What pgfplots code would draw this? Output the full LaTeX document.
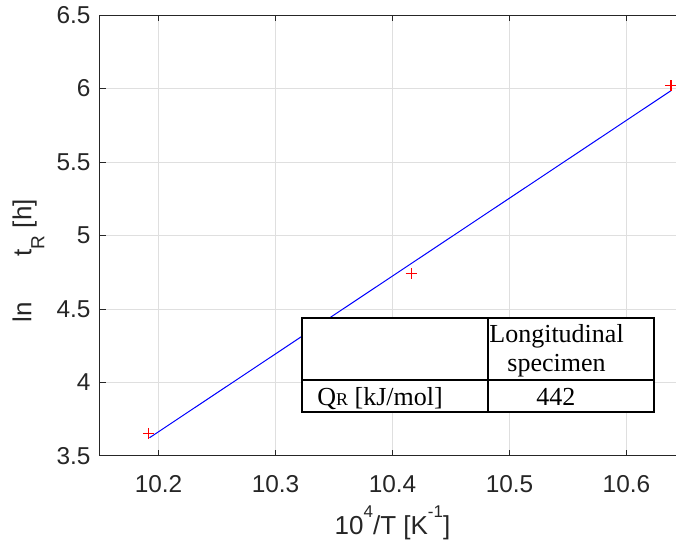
\documentclass[border=0pt]{standalone}
\usepackage{pgfplots}
\pgfplotsset{compat=1.18}
\usepackage{fontspec}
\setmainfont{Liberation Sans}
\newfontfamily\timesf{Liberation Serif}
\definecolor{axgray}{rgb}{0.15,0.15,0.15}
\definecolor{gridgray}{rgb}{0.875,0.875,0.875}
\definecolor{mred}{rgb}{1,0,0}
\begin{document}
\begin{tikzpicture}
\begin{axis}[
 scale only axis, width=292.5pt, height=220.5pt,
 xmin=10.15, xmax=10.65, ymin=3.5, ymax=6.5,
 xtick={10.2,10.3,10.4,10.5,10.6},
 ytick={3.5,4,4.5,5,5.5,6,6.5},
 xticklabels={10.2,10.3,10.4,10.5,10.6},
 yticklabels={3.5,4,4.5,5,5.5,6,6.5},
 grid=major,
 major grid style={gridgray, line width=0.5pt},
 axis line style={axgray, line width=0.5pt},
 tick style={axgray, line width=0.5pt},
 major tick length=3pt,
 tick align=inside,
 /pgf/number format/assume math mode=true,
 ticklabel style={font=\fontsize{12.2}{14}\selectfont, text=axgray},
 xticklabel style={anchor=base, yshift=-18pt},
 yticklabel style={anchor=east, xshift=-1.2pt},
 xlabel={10\raisebox{8.5pt}{\fontsize{8.5}{8.5}\selectfont 4}/T [K\raisebox{8.5pt}{\fontsize{8.5}{8.5}\selectfont -1}]},
 xlabel style={at={(axis description cs:0.5,0)}, anchor=base, yshift=-39pt, inner sep=0pt, font=\fontsize{13}{15}\selectfont, text=axgray},
 ylabel={ln\hspace{23pt}t\raisebox{-6.5pt}{\fontsize{9.5}{9.5}\selectfont R} [h]},
 ylabel style={at={(axis description cs:-0.1171,0.3016)}, anchor=base west, inner sep=0pt, font=\fontsize{13}{15}\selectfont, text=axgray},
]
\addplot[blue, line width=0.5pt] coordinates {(10.1923,3.624) (10.638,5.985)};
\addplot[draw=none, mark=+, mark size=2.75pt, mark options={draw=mred, line width=0.6pt}] coordinates {(10.1917,3.654)};
\addplot[draw=none, mark=+, mark size=2.75pt, mark options={draw=mred, line width=0.6pt}] coordinates {(10.416,4.743)};
\addplot[draw=none, mark=+, mark size=2.75pt, mark options={draw=mred, line width=0.6pt}] coordinates {(10.638,6.019)};
\end{axis}
\fill[white] (101pt,22pt) rectangle (277pt,69pt);
\draw[line width=1pt] (101pt,22pt) rectangle (277pt,69pt);
\draw[line width=1pt] (101pt,38pt) -- (277pt,38pt);
\draw[line width=1pt] (194pt,22pt) -- (194pt,69pt);
\begin{scope}[every node/.style={inner sep=0pt, anchor=base west, font=\timesf\fontsize{13}{15}\selectfont}]
\node at (194.5pt,56.5pt) {Longitudinal};
\node at (203.5pt,42.15pt) {specimen};
\node at (108.5pt,25pt) {Q{\fontsize{9}{9}\selectfont R} [kJ/mol]};
\node at (218pt,25pt) {442};
\end{scope}
\pgfresetboundingbox
\useasboundingbox (-50pt,-43pt) rectangle (288pt,228pt);
\end{tikzpicture}
\end{document}
